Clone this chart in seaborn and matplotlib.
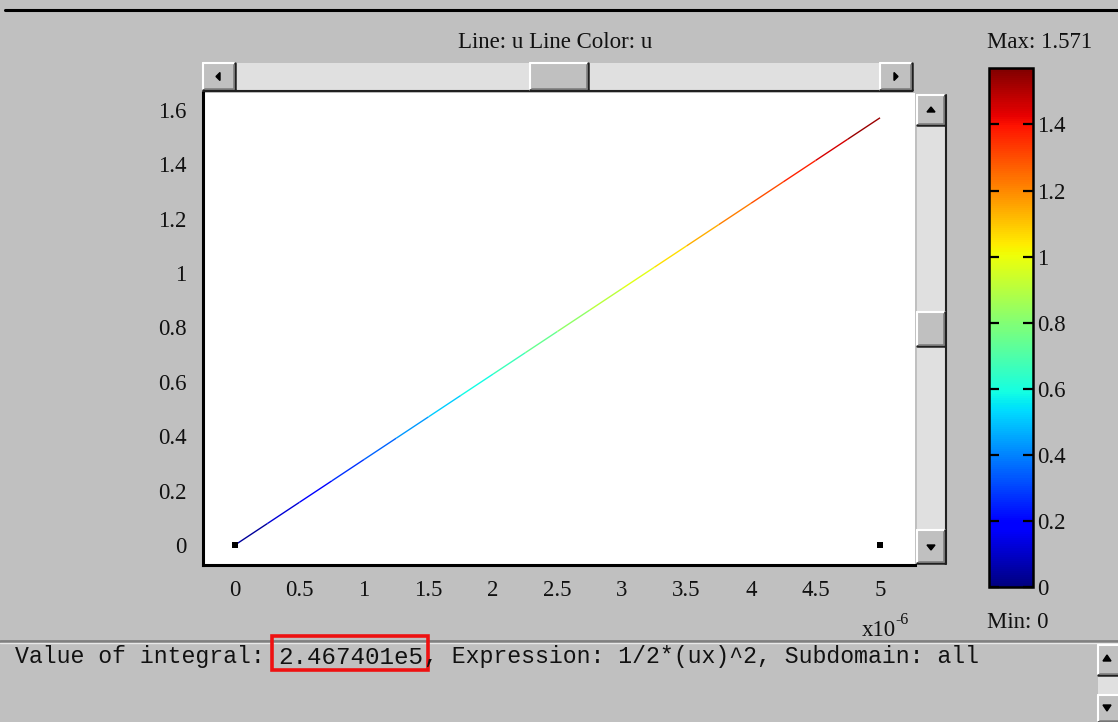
import numpy as np
import pandas as pd
import matplotlib
matplotlib.use("Agg")
import matplotlib.pyplot as plt
import seaborn as sns
from matplotlib.collections import LineCollection
from matplotlib.patches import Rectangle, Polygon
from matplotlib.colors import Normalize

# ---------------- data ----------------
x_um = [0.0, 0.25, 0.5, 0.75, 1.0, 1.25, 1.5, 1.75, 2.0, 2.25, 2.5,
        2.75, 3.0, 3.25, 3.5, 3.75, 4.0, 4.25, 4.5, 4.75, 5.0]          # x in 1e-6 units
u_vals = [0.0, 0.0785, 0.1571, 0.2356, 0.3142, 0.3927, 0.4712, 0.5498,
          0.6283, 0.7069, 0.7854, 0.8639, 0.9425, 1.0210, 1.0996, 1.1781,
          1.2566, 1.3352, 1.4137, 1.4923, 1.5708]
marker_x = [0.0, 5.0]
marker_y = [0.0, 0.0]
x_ticks = [0, 0.5, 1, 1.5, 2, 2.5, 3, 3.5, 4, 4.5, 5]
x_ticklabels = ["0", "0.5", "1", "1.5", "2", "2.5", "3", "3.5", "4", "4.5", "5"]
y_ticks = [0, 0.2, 0.4, 0.6, 0.8, 1.0, 1.2, 1.4, 1.6]
y_ticklabels = ["0", "0.2", "0.4", "0.6", "0.8", "1", "1.2", "1.4", "1.6"]
cb_ticks = [0, 0.2, 0.4, 0.6, 0.8, 1.0, 1.2, 1.4]
cb_ticklabels = ["0", "0.2", "0.4", "0.6", "0.8", "1", "1.2", "1.4"]
u_min, u_max = 0.0, 1.571
title_text = "Line: u Line Color: u"
max_text = "Max: 1.571"
min_text = "Min: 0"
integral_prefix = "Value of integral: "
integral_value = "2.467401e5"
integral_suffix = ", Expression: 1/2*(ux)^2, Subdomain: all"

# ---------------- style ----------------
sns.set_theme(style="white")
plt.rcParams["font.family"] = ["Liberation Serif", "DejaVu Serif"]

W, H = 1118, 722
GRAY = "#c0c0c0"
FS = 16.5
fig = plt.figure(figsize=(W / 100, H / 100), dpi=100, facecolor=GRAY)


def R(x0, y0, x1, y1):
    return [x0 / W, 1 - y1 / H, (x1 - x0) / W, (y1 - y0) / H]


# background / widget layer in pixel coordinates
bg = fig.add_axes([0, 0, 1, 1], zorder=0)
bg.set_xlim(0, W)
bg.set_ylim(H, 0)
bg.axis("off")
bg.set_facecolor(GRAY)


def button(x0, y0, x1, y1):
    bg.add_patch(Rectangle((x0, y0), x1 - x0, y1 - y0, facecolor=GRAY, edgecolor="none", zorder=3))
    bg.plot([x0, x1], [y0, y0], color="white", lw=1.5, zorder=4)
    bg.plot([x0, x0], [y0, y1], color="white", lw=1.5, zorder=4)
    bg.plot([x0, x1], [y1, y1], color="#202020", lw=1.8, zorder=4)
    bg.plot([x1, x1], [y0, y1], color="#202020", lw=1.8, zorder=4)
    bg.plot([x0 + 1.5, x1 - 1.5], [y1 - 1.5, y1 - 1.5], color="#808080", lw=1.2, zorder=4)
    bg.plot([x1 - 1.5, x1 - 1.5], [y0 + 1.5, y1 - 1.5], color="#808080", lw=1.2, zorder=4)


def track(x0, y0, x1, y1):
    bg.add_patch(Rectangle((x0, y0), x1 - x0, y1 - y0, facecolor="#e0e0e0",
                           edgecolor="none", zorder=2))


def tri(pts):
    bg.add_patch(Polygon(pts, closed=True, facecolor="black", edgecolor="black", zorder=5))


# top border line
bg.plot([5, W], [9.5, 9.5], color="black", lw=2.2, zorder=2)

# horizontal scrollbar
track(203, 63, 912, 90)
bg.plot([203, 912], [91, 91], color="#202020", lw=1.5, zorder=2)
button(203, 63, 235, 90)
tri([(216, 76.5), (220, 72.5), (220, 80.5)])
button(530, 63, 588, 90)
button(880, 63, 912, 90)
tri([(898, 76.5), (894, 72.5), (894, 80.5)])

# vertical scrollbar
track(917, 95, 945, 563)
bg.plot([946, 946], [95, 564], color="#202020", lw=1.5, zorder=2)
button(917, 95, 945, 125)
tri([(931, 107), (927, 112), (935, 112)])
button(917, 312, 945, 346)
button(917, 530, 945, 563)
tri([(931, 550), (927, 545), (935, 545)])

# bottom separator
bg.plot([0, W], [640.5, 640.5], color="#808080", lw=2, zorder=2)
bg.plot([0, W], [642.5, 642.5], color="#e8e8e8", lw=1, zorder=2)

# bottom-right scrollbar
track(1098, 645, 1118, 722)
button(1098, 645, 1120, 675)
tri([(1107, 655), (1103, 661), (1111, 661)])
button(1098, 695, 1120, 722)
tri([(1107, 711), (1103, 705), (1111, 705)])

# red highlight box
bg.add_patch(Rectangle((272, 636), 156, 34, facecolor="none", edgecolor="#ee1111", lw=2.6, zorder=6))

# texts
bg.text(555, 42, title_text, ha="center", va="center", fontsize=FS, color="#111111", zorder=6)
bg.text(1040, 42, max_text, ha="center", va="center", fontsize=FS, color="#111111", zorder=6)
bg.text(1018, 622, min_text, ha="center", va="center", fontsize=FS, color="#111111", zorder=6)
bg.text(862, 630, "x10", ha="left", va="center", fontsize=FS, color="#111111", zorder=6)
bg.text(895, 620, "-6", ha="left", va="center", fontsize=11.5, color="#111111", zorder=6)
mono = ["Liberation Mono", "DejaVu Sans Mono"]
bg.text(15, 657, integral_prefix, ha="left", va="center",
        fontsize=16.7, family=mono, color="#111111", zorder=6)
bg.text(351, 657, integral_value, ha="center", va="center",
        fontsize=17.4, family=mono, color="#111111", zorder=6)
bg.text(424, 657, integral_suffix, ha="left", va="center",
        fontsize=16.7, family=mono, color="#111111", zorder=6)

# ---------------- main axes ----------------
ax = fig.add_axes(R(203, 93, 915, 565), zorder=1)
ax.set_facecolor("white")
ax.set_xlim(-0.248, 5.271)
ax.set_ylim(-0.0736, 1.662)

norm = Normalize(vmin=u_min, vmax=u_max)
cmap = plt.get_cmap("jet")
pts = np.column_stack([x_um, u_vals])
segs = np.stack([pts[:-1], pts[1:]], axis=1)
mid_u = (np.array(u_vals[:-1]) + np.array(u_vals[1:])) / 2
lc = LineCollection(segs, cmap=cmap, norm=norm, linewidths=1.0)
lc.set_array(mid_u)
ax.add_collection(lc)

sns.scatterplot(x=marker_x, y=marker_y, marker="s", color="black", s=14,
                edgecolor="black", linewidth=0, ax=ax, zorder=5)

ax.set_xticks(x_ticks)
ax.set_xticklabels(x_ticklabels)
ax.set_yticks(y_ticks)
ax.set_yticklabels(y_ticklabels)
ax.tick_params(axis="both", length=0, labelsize=FS, colors="#111111")
ax.tick_params(axis="x", pad=11)
ax.tick_params(axis="y", pad=12)
for s in ["top", "right"]:
    ax.spines[s].set_visible(False)
for s in ["left", "bottom"]:
    ax.spines[s].set_visible(True)
    ax.spines[s].set_color("black")
    ax.spines[s].set_linewidth(2.2)
ax.grid(False)
ax.set_xlabel("")
ax.set_ylabel("")

# ---------------- colorbar ----------------
cax = fig.add_axes(R(989, 68, 1033, 587), zorder=1)
sm = plt.cm.ScalarMappable(norm=norm, cmap=cmap)
cb = fig.colorbar(sm, cax=cax)
cb.set_ticks(cb_ticks)
cb.set_ticklabels(cb_ticklabels)
cax.set_axisbelow(False)
if cb.solids is not None:
    cb.solids.set_zorder(0.5)
cax.tick_params(axis="y", left=True, right=True, direction="in", length=7, width=1.6,
                labelsize=FS, pad=3, colors="black", labelcolor="#111111")
cb.outline.set_edgecolor("black")
cb.outline.set_linewidth(1.8)

fig.savefig("out.png", dpi=100, facecolor=GRAY)
